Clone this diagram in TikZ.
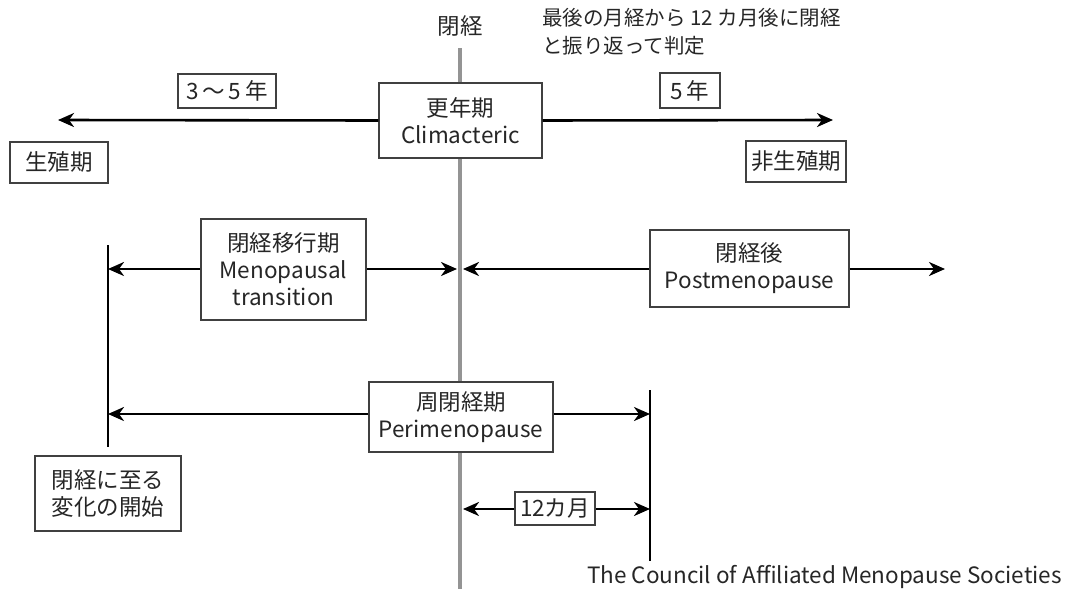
\documentclass[tikz,border=0pt]{standalone}
\usepackage{fontspec}
\setmainfont{Noto Sans CJK JP}
\usetikzlibrary{arrows.meta}
\begin{document}
\begin{tikzpicture}[x=1pt,y=-1pt,
  box/.style={draw=black!75,line width=1.2pt,fill=white,inner sep=0pt,align=center,font=\fontsize{22.5}{27}\selectfont,text=black!85},
  lbl/.style={inner sep=0pt,font=\fontsize{22.5}{28}\selectfont,text=black!85},
  arr/.style={line width=2.6pt,-{Stealth[length=16pt,width=14pt,inset=5pt]}},
  blk/.style={line width=2.6pt},
  axis/.style={line width=4.5pt,draw=black!42}]
\useasboundingbox (0,0) rectangle (1065,589);
% axis line (menopause)
\coordinate (gtop) at (460,48);
\coordinate (gbot) at (460,589);
\draw[axis] (gtop) -- (gbot);
% boundary lines
\coordinate (ltop) at (108,245);
\coordinate (lbot) at (108,447);
\coordinate (rtop) at (650,390);
\coordinate (rbot) at (650,561);
\draw[blk] (ltop) -- (lbot);
\draw[blk] (rtop) -- (rbot);
% boxes
\node[box,minimum width=163pt,minimum height=75pt] (clim) at (460.5,120.5) {更年期\\Climacteric};
\node[box,minimum width=98pt,minimum height=34pt] (y35) at (227,91) {3\,〜\,5\,年};
\node[box,minimum width=60pt,minimum height=35pt] (y5) at (690,90.5) {5\,年};
\node[box,minimum width=98pt,minimum height=41pt] (rep) at (59,162.5) {生殖期};
\node[box,minimum width=100pt,minimum height=41pt] (nonrep) at (796,161.5) {非生殖期};
\node[box,minimum width=165pt,minimum height=101pt] (mt) at (283.5,269.5) {閉経移行期\\Menopausal\\transition};
\node[box,minimum width=199pt,minimum height=77pt] (post) at (749.5,268.5) {閉経後\\Postmenopause};
\node[box,minimum width=184pt,minimum height=70pt] (peri) at (461,417) {周閉経期\\Perimenopause};
\node[box,minimum width=146pt,minimum height=75pt] (start) at (108,493.5) {閉経に至る\\変化の開始};
\node[box,minimum width=80pt,minimum height=33pt] (m12) at (555,508.5) {12カ月};
% labels
\node[lbl] (meno) at (460,26) {閉経};
\node[lbl,anchor=north west,align=left,font=\fontsize{20.5}{28}\selectfont] (note) at (542,8) {最後の月経から 12 カ月後に閉経\\と振り返って判定};
\node[lbl,anchor=east] (src) at (1062,577) {The Council of Affiliated Menopause Societies};
% arrow endpoints
\coordinate (c1) at (58,120);
\coordinate (c2) at (833,120);
\coordinate (c3) at (108,269);
\coordinate (c4) at (457,269);
\coordinate (c5) at (463,269);
\coordinate (c6) at (945,269);
\coordinate (c7) at (108,414);
\coordinate (c8) at (650,414);
\coordinate (c9) at (463,509);
\coordinate (c10) at (650,509);
% arrows
\draw[arr] (clim.west) -- (c1);
\draw[arr] (clim.east) -- (c2);
\draw[arr] (mt.west |- c3) -- (c3);
\draw[arr] (mt.east |- c4) -- (c4);
\draw[arr] (post.west |- c5) -- (c5);
\draw[arr] (post.east |- c6) -- (c6);
\draw[arr] (peri.west |- c7) -- (c7);
\draw[arr] (peri.east |- c8) -- (c8);
\draw[arr] (m12.west |- c9) -- (c9);
\draw[arr] (m12.east |- c10) -- (c10);
\end{tikzpicture}
\end{document}
